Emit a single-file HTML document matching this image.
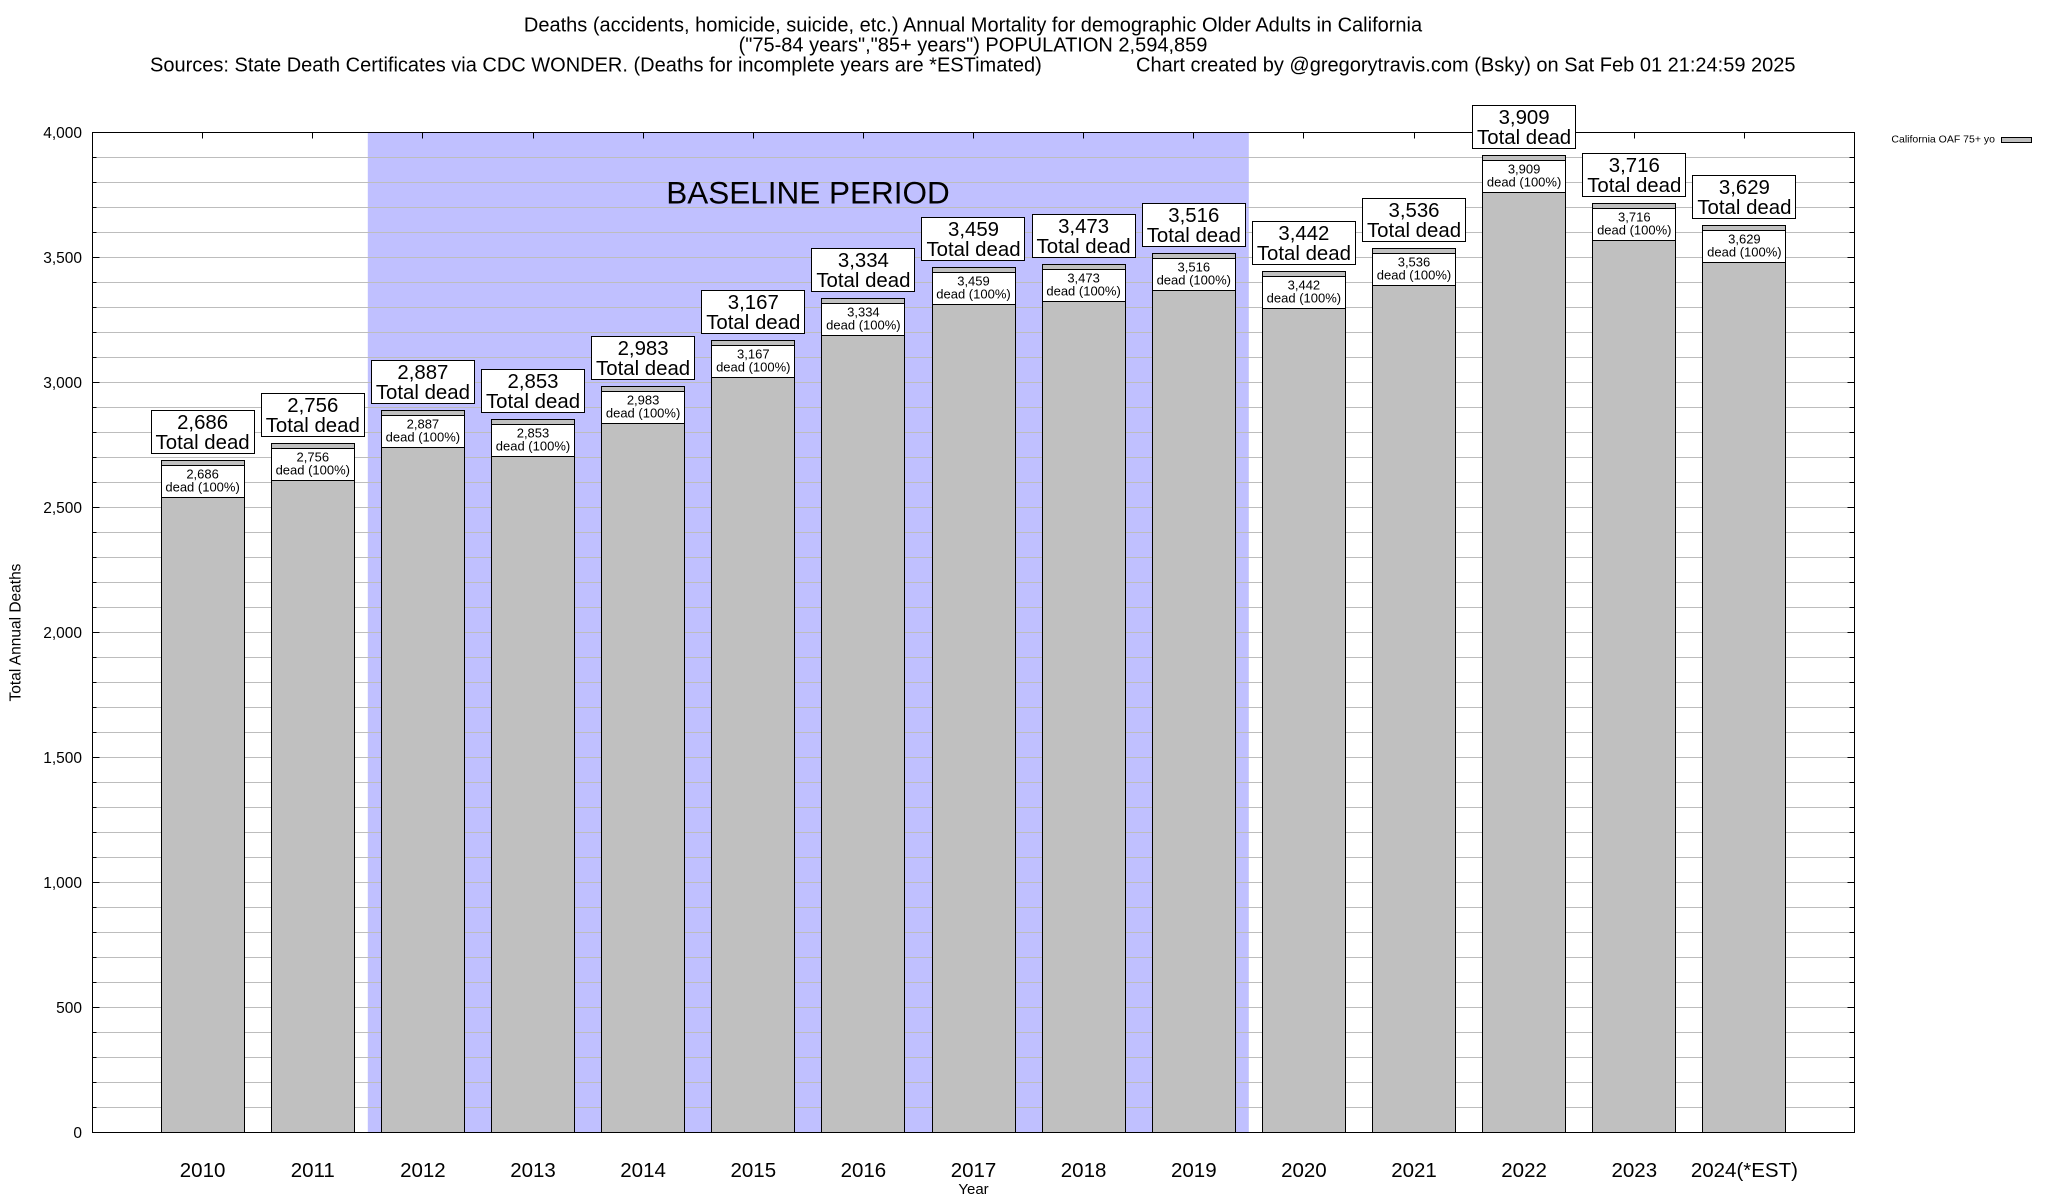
<!DOCTYPE html>
<html><head><meta charset="utf-8"><style>
html,body{margin:0;padding:0;background:#fff;}
svg{display:block;font-family:"Liberation Sans",Arial,Helvetica,sans-serif;}
</style></head><body>
<svg width="2048" height="1200" viewBox="0 0 2048 1200" xmlns="http://www.w3.org/2000/svg">
<rect x="0" y="0" width="2048" height="1200" fill="#fff"/>
<!-- title -->
<g font-size="20" fill="#000">
<text x="973" y="31.7" text-anchor="middle">Deaths (accidents, homicide, suicide, etc.) Annual Mortality for demographic Older Adults in California</text>
<text x="973" y="51.7" text-anchor="middle">("75-84 years","85+ years") POPULATION 2,594,859</text>
<text x="150" y="71.7">Sources: State Death Certificates via CDC WONDER. (Deaths for incomplete years are *ESTimated)</text>
<text x="1136" y="71.7">Chart created by @gregorytravis.com (Bsky) on Sat Feb 01 21:24:59 2025</text>
</g>
<!-- baseline shading -->
<rect x="367.8" y="132.5" width="881" height="1000" fill="#c0c0ff"/>
<!-- gridlines -->
<path fill="none" stroke="#bdbdbd" stroke-width="1" d="M92.5 1107.5H1854.5M92.5 1082.5H1854.5M92.5 1057.5H1854.5M92.5 1032.5H1854.5M92.5 1007.5H1854.5M92.5 982.5H1854.5M92.5 957.5H1854.5M92.5 932.5H1854.5M92.5 907.5H1854.5M92.5 882.5H1854.5M92.5 857.5H1854.5M92.5 832.5H1854.5M92.5 807.5H1854.5M92.5 782.5H1854.5M92.5 757.5H1854.5M92.5 732.5H1854.5M92.5 707.5H1854.5M92.5 682.5H1854.5M92.5 657.5H1854.5M92.5 632.5H1854.5M92.5 607.5H1854.5M92.5 582.5H1854.5M92.5 557.5H1854.5M92.5 532.5H1854.5M92.5 507.5H1854.5M92.5 482.5H1854.5M92.5 457.5H1854.5M92.5 432.5H1854.5M92.5 407.5H1854.5M92.5 382.5H1854.5M92.5 357.5H1854.5M92.5 332.5H1854.5M92.5 307.5H1854.5M92.5 282.5H1854.5M92.5 257.5H1854.5M92.5 232.5H1854.5M92.5 207.5H1854.5M92.5 182.5H1854.5M92.5 157.5H1854.5"/>
<!-- ticks -->
<path fill="none" stroke="#000" stroke-width="1" d="M92.5 1007.5h7M92.5 882.5h7M92.5 757.5h7M92.5 632.5h7M92.5 507.5h7M92.5 382.5h7M92.5 257.5h7M1854.5 1007.5h-7M1854.5 882.5h-7M1854.5 757.5h-7M1854.5 632.5h-7M1854.5 507.5h-7M1854.5 382.5h-7M1854.5 257.5h-7
M92.5 1107.5h4M92.5 1082.5h4M92.5 1057.5h4M92.5 1032.5h4M92.5 982.5h4M92.5 957.5h4M92.5 932.5h4M92.5 907.5h4M92.5 857.5h4M92.5 832.5h4M92.5 807.5h4M92.5 782.5h4M92.5 732.5h4M92.5 707.5h4M92.5 682.5h4M92.5 657.5h4M92.5 607.5h4M92.5 582.5h4M92.5 557.5h4M92.5 532.5h4M92.5 482.5h4M92.5 457.5h4M92.5 432.5h4M92.5 407.5h4M92.5 357.5h4M92.5 332.5h4M92.5 307.5h4M92.5 282.5h4M92.5 232.5h4M92.5 207.5h4M92.5 182.5h4M92.5 157.5h4
M1854.5 1107.5h-5M1854.5 1082.5h-5M1854.5 1057.5h-5M1854.5 1032.5h-5M1854.5 982.5h-5M1854.5 957.5h-5M1854.5 932.5h-5M1854.5 907.5h-5M1854.5 857.5h-5M1854.5 832.5h-5M1854.5 807.5h-5M1854.5 782.5h-5M1854.5 732.5h-5M1854.5 707.5h-5M1854.5 682.5h-5M1854.5 657.5h-5M1854.5 607.5h-5M1854.5 582.5h-5M1854.5 557.5h-5M1854.5 532.5h-5M1854.5 482.5h-5M1854.5 457.5h-5M1854.5 432.5h-5M1854.5 407.5h-5M1854.5 357.5h-5M1854.5 332.5h-5M1854.5 307.5h-5M1854.5 282.5h-5M1854.5 232.5h-5M1854.5 207.5h-5M1854.5 182.5h-5M1854.5 157.5h-5
M202.5 132.5v6M312.5 132.5v6M422.5 132.5v6M533.5 132.5v6M643.5 132.5v6M753.5 132.5v6M863.5 132.5v6M973.5 132.5v6M1083.5 132.5v6M1193.5 132.5v6M1303.5 132.5v6M1414.5 132.5v6M1524.5 132.5v6M1634.5 132.5v6M1744.5 132.5v6"/>
<!-- bars -->
<g fill="#c0c0c0" stroke="#000" stroke-width="1">
<rect x="161.5" y="460.5" width="83" height="672"/>
<rect x="271.5" y="443.5" width="83" height="689"/>
<rect x="381.5" y="410.5" width="83" height="722"/>
<rect x="491.5" y="419.5" width="83" height="713"/>
<rect x="601.5" y="386.5" width="83" height="746"/>
<rect x="711.5" y="340.5" width="83" height="792"/>
<rect x="821.5" y="298.5" width="83" height="834"/>
<rect x="932.5" y="267.5" width="83" height="865"/>
<rect x="1042.5" y="264.5" width="83" height="868"/>
<rect x="1152.5" y="253.5" width="83" height="879"/>
<rect x="1262.5" y="271.5" width="83" height="861"/>
<rect x="1372.5" y="248.5" width="83" height="884"/>
<rect x="1482.5" y="155.5" width="83" height="977"/>
<rect x="1592.5" y="203.5" width="83" height="929"/>
<rect x="1702.5" y="225.5" width="83" height="907"/>
</g>
<!-- inner boxes -->
<g fill="#fff" stroke="#000" stroke-width="1">
<rect x="161.5" y="465.5" width="83" height="32"/>
<rect x="271.5" y="448.5" width="83" height="32"/>
<rect x="381.5" y="415.5" width="83" height="32"/>
<rect x="491.5" y="424.5" width="83" height="32"/>
<rect x="601.5" y="391.5" width="83" height="32"/>
<rect x="711.5" y="345.5" width="83" height="32"/>
<rect x="821.5" y="303.5" width="83" height="32"/>
<rect x="932.5" y="272.5" width="83" height="32"/>
<rect x="1042.5" y="269.5" width="83" height="32"/>
<rect x="1152.5" y="258.5" width="83" height="32"/>
<rect x="1262.5" y="276.5" width="83" height="32"/>
<rect x="1372.5" y="253.5" width="83" height="32"/>
<rect x="1482.5" y="160.5" width="83" height="32"/>
<rect x="1592.5" y="208.5" width="83" height="32"/>
<rect x="1702.5" y="230.5" width="83" height="32"/>
</g>
<g font-size="13" text-anchor="middle" fill="#000">
<text x="202.6" y="478.5">2,686</text><text x="202.6" y="491.5">dead (100%)</text>
<text x="312.8" y="461.5">2,756</text><text x="312.8" y="474.5">dead (100%)</text>
<text x="422.9" y="428.5">2,887</text><text x="422.9" y="441.5">dead (100%)</text>
<text x="533" y="437.5">2,853</text><text x="533" y="450.5">dead (100%)</text>
<text x="643.1" y="404.5">2,983</text><text x="643.1" y="417.5">dead (100%)</text>
<text x="753.3" y="358.5">3,167</text><text x="753.3" y="371.5">dead (100%)</text>
<text x="863.4" y="316.5">3,334</text><text x="863.4" y="329.5">dead (100%)</text>
<text x="973.5" y="285.5">3,459</text><text x="973.5" y="298.5">dead (100%)</text>
<text x="1083.6" y="282.5">3,473</text><text x="1083.6" y="295.5">dead (100%)</text>
<text x="1193.8" y="271.5">3,516</text><text x="1193.8" y="284.5">dead (100%)</text>
<text x="1303.9" y="289.5">3,442</text><text x="1303.9" y="302.5">dead (100%)</text>
<text x="1414" y="266.5">3,536</text><text x="1414" y="279.5">dead (100%)</text>
<text x="1524.1" y="173.5">3,909</text><text x="1524.1" y="186.5">dead (100%)</text>
<text x="1634.3" y="221.5">3,716</text><text x="1634.3" y="234.5">dead (100%)</text>
<text x="1744.4" y="243.5">3,629</text><text x="1744.4" y="256.5">dead (100%)</text>
</g>
<!-- border -->
<rect x="92.5" y="132.5" width="1762" height="1000" fill="none" stroke="#000" stroke-width="1"/>
<!-- BASELINE PERIOD -->
<text x="808" y="203.5" font-size="31.5" text-anchor="middle" fill="#000">BASELINE PERIOD</text>
<!-- big label boxes -->
<g fill="#fff" stroke="#000" stroke-width="1">
<rect x="151.5" y="410.5" width="103" height="43"/>
<rect x="261.5" y="393.5" width="103" height="43"/>
<rect x="371.5" y="360.5" width="103" height="43"/>
<rect x="481.5" y="369.5" width="103" height="43"/>
<rect x="591.5" y="336.5" width="103" height="43"/>
<rect x="701.5" y="290.5" width="103" height="43"/>
<rect x="811.5" y="248.5" width="103" height="43"/>
<rect x="921.5" y="217.5" width="103" height="43"/>
<rect x="1032.5" y="214.5" width="103" height="43"/>
<rect x="1142.5" y="203.5" width="103" height="43"/>
<rect x="1252.5" y="221.5" width="103" height="43"/>
<rect x="1362.5" y="198.5" width="103" height="43"/>
<rect x="1472.5" y="105.5" width="103" height="43"/>
<rect x="1582.5" y="153.5" width="103" height="43"/>
<rect x="1692.5" y="175.5" width="103" height="43"/>
</g>
<g font-size="20.4" text-anchor="middle" fill="#000">
<text x="202.6" y="429">2,686</text><text x="202.6" y="449">Total dead</text>
<text x="312.8" y="412">2,756</text><text x="312.8" y="432">Total dead</text>
<text x="422.9" y="379">2,887</text><text x="422.9" y="399">Total dead</text>
<text x="533" y="388">2,853</text><text x="533" y="408">Total dead</text>
<text x="643.1" y="355">2,983</text><text x="643.1" y="375">Total dead</text>
<text x="753.3" y="309">3,167</text><text x="753.3" y="329">Total dead</text>
<text x="863.4" y="267">3,334</text><text x="863.4" y="287">Total dead</text>
<text x="973.5" y="236">3,459</text><text x="973.5" y="256">Total dead</text>
<text x="1083.6" y="233">3,473</text><text x="1083.6" y="253">Total dead</text>
<text x="1193.8" y="222">3,516</text><text x="1193.8" y="242">Total dead</text>
<text x="1303.9" y="240">3,442</text><text x="1303.9" y="260">Total dead</text>
<text x="1414" y="217">3,536</text><text x="1414" y="237">Total dead</text>
<text x="1524.1" y="124">3,909</text><text x="1524.1" y="144">Total dead</text>
<text x="1634.3" y="172">3,716</text><text x="1634.3" y="192">Total dead</text>
<text x="1744.4" y="194">3,629</text><text x="1744.4" y="214">Total dead</text>
</g>
<!-- y tick labels -->
<g font-size="15.5" text-anchor="end" fill="#000">
<text x="82" y="1138">0</text>
<text x="82" y="1013">500</text>
<text x="82" y="888">1,000</text>
<text x="82" y="763">1,500</text>
<text x="82" y="638">2,000</text>
<text x="82" y="513">2,500</text>
<text x="82" y="388">3,000</text>
<text x="82" y="263">3,500</text>
<text x="82" y="138">4,000</text>
</g>
<text transform="translate(20.5,632.5) rotate(-90)" font-size="15.5" text-anchor="middle" fill="#000">Total Annual Deaths</text>
<!-- x tick labels -->
<g font-size="20.5" text-anchor="middle" fill="#000">
<text x="202.6" y="1177">2010</text>
<text x="312.8" y="1177">2011</text>
<text x="422.9" y="1177">2012</text>
<text x="533" y="1177">2013</text>
<text x="643.1" y="1177">2014</text>
<text x="753.3" y="1177">2015</text>
<text x="863.4" y="1177">2016</text>
<text x="973.5" y="1177">2017</text>
<text x="1083.6" y="1177">2018</text>
<text x="1193.8" y="1177">2019</text>
<text x="1303.9" y="1177">2020</text>
<text x="1414" y="1177">2021</text>
<text x="1524.1" y="1177">2022</text>
<text x="1634.3" y="1177">2023</text>
<text x="1744.4" y="1177">2024(*EST)</text>
</g>
<text x="973.5" y="1194" font-size="15" text-anchor="middle" fill="#000">Year</text>
<!-- legend -->
<text x="1995" y="142.7" font-size="10.5" text-anchor="end" fill="#000">California OAF 75+ yo</text>
<rect x="2001.5" y="137.5" width="30" height="5" fill="#c0c0c0" stroke="#000" stroke-width="1"/>
</svg>
</body></html>
